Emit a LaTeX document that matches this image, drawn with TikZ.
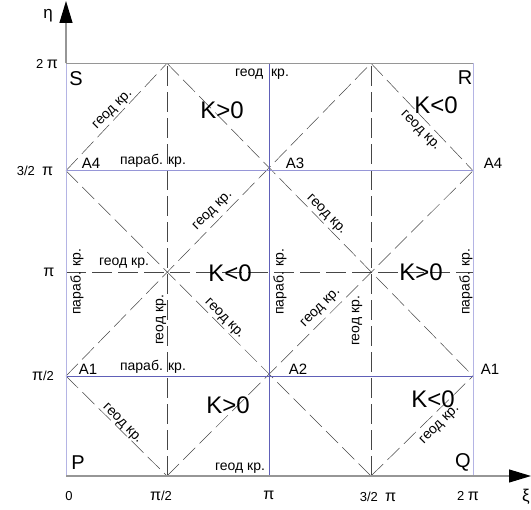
\documentclass[tikz,border=0pt]{standalone}
\usepackage{fontspec}
\setmainfont{Liberation Sans}
\usetikzlibrary{arrows.meta}
\definecolor{edgecol}{RGB}{180,180,228}
\definecolor{bluecol}{RGB}{96,96,184}
\definecolor{lbluecol}{RGB}{150,150,215}
\definecolor{axcol}{RGB}{150,150,150}
\definecolor{dashcol}{RGB}{70,70,70}
\newcommand\PI{{\fontsize{16}{16}\selectfont π}}
\begin{document}
\begin{tikzpicture}[x=1pt,y=-1pt,
  axisln/.style={draw=axcol, line width=1.1pt},
  edgeln/.style={draw=edgecol, line width=1pt},
  blueln/.style={draw=bluecol, line width=0.8pt},
  lblueln/.style={draw=lbluecol, line width=0.9pt},
  gridd/.style={draw=dashcol, line width=0.5pt, dash pattern=on 20pt off 6pt},
  diagd/.style={draw=dashcol, line width=0.5pt, dash pattern=on 17pt off 6pt},
  arr/.style={-{Triangle[length=22pt,width=13pt,color=black]}},
  small/.style={font=\fontsize{14}{14}\selectfont, inner sep=0pt},
  big/.style={font=\fontsize{24}{24}\selectfont, inner sep=0pt},
  corner/.style={font=\fontsize{20}{20}\selectfont, inner sep=0pt},
  ptl/.style={font=\fontsize{15}{15}\selectfont, inner sep=0pt},
  ax/.style={font=\fontsize{13}{13}\selectfont, inner sep=0pt},
  greek/.style={font=\fontsize{17}{17}\selectfont, inner sep=0pt}]
\useasboundingbox (0,0) rectangle (531,510);
\foreach \i/\x in {0/66,1/167,2/269,3/371,4/473}
  \foreach \j/\y in {0/476,1/376,2/272.7,3/170.7,4/63.3}
    \coordinate (c\i\j) at (\x,\y);
\coordinate (xtip) at (531,476);
\coordinate (ytip) at (66,1);
% grid dashed
\draw[gridd] (c10) -- (c14);
\draw[gridd] (c30) -- (c34);
\draw[gridd] (c02) -- (c42);
% diagonals
\draw[diagd] (c10) -- (c43);
\draw[diagd] (c01) -- (c34);
\draw[diagd] (c03) -- (c14);
\draw[diagd] (c30) -- (c41);
\draw[diagd] (c01) -- (c10);
\draw[diagd] (c03) -- (c30);
\draw[diagd] (c14) -- (c41);
\draw[diagd] (c34) -- (c43);
% blue lines
\draw[blueln] (c01) -- (c41);
\draw[lblueln] (c03) -- (c43);
\draw[blueln] (c20) -- (c24);
% frame
\draw[edgeln] (c00) -- (c04);
\draw[edgeln] (c40) -- (c44);
\draw[axisln] (c04) -- (c44);
\draw[axisln,arr] (c00) -- (xtip);
\draw[axisln,arr] (c04) -- (ytip);
% axis names
\node[greek] (eta) at (48,16) {η};
\node[greek] (xi) at (526,497) {ξ};
% y ticks
\node[ax] (ty4) at (47,64) {2 \PI};
\node[ax] (ty3) at (35,171) {3/2\ \ \PI};
\node[ax] (ty2) at (49,272) {\PI};
\node[ax] (ty1) at (43,376) {\PI/2};
% x ticks
\node[ax] (tx0) at (69,496) {0};
\node[ax] (tx1) at (161,496) {\PI/2};
\node[ax] (tx2) at (269,495) {\PI};
\node[ax] (tx3) at (378,497) {3/2\ \ \PI};
\node[ax] (tx4) at (468,496) {2 \PI};
% corners
\node[corner] (S) at (76,79) {S};
\node[corner] (R) at (465,78) {R};
\node[corner] (P) at (78,463) {P};
\node[corner] (Q) at (463,462) {Q};
% points
\node[ptl] (A4l) at (91,163) {A4};
\node[ptl] (A4r) at (493,163) {A4};
\node[ptl] (A3) at (295,163) {A3};
\node[ptl] (A1l) at (88,369) {A1};
\node[ptl] (A2) at (298,369) {A2};
\node[ptl] (A1r) at (490,369) {A1};
% curvature
\node[big] (k1) at (222,110) {K>0};
\node[big] (k2) at (436,105) {K<0};
\node[big] (k3) at (230,273) {K<0};
\node[big] (k4) at (421,272) {K>0};
\node[big] (k5) at (228,405) {K>0};
\node[big] (k6) at (433,399) {K<0};
% horizontal labels
\node[small] (h1) at (262,74) {геод\ \ кр.};
\node[small] (h2) at (240,468) {геод кр.};
\node[small] (h3) at (153,161) {параб. кр.};
\node[small] (h4) at (153,367) {параб. кр.};
\node[small] (h5) at (124,263) {геод кр.};
% vertical labels
\node[small,rotate=90] (v1) at (77,282) {параб. кр.};
\node[small,rotate=90] (v2) at (161,320) {геод кр.};
\node[small,rotate=90] (v3) at (280,282) {параб. кр.};
\node[small,rotate=90] (v4) at (357,321) {геод кр.};
\node[small,rotate=90] (v5) at (466,282) {параб. кр.};
% diagonal labels
\node[small,rotate=45] (d1) at (113,110) {геод кр.};
\node[small,rotate=-45] (d2) at (420,131) {геод кр.};
\node[small,rotate=45] (d3) at (213,211) {геод кр.};
\node[small,rotate=-45] (d4) at (326,215) {геод кр.};
\node[small,rotate=-45] (d5) at (224,319) {геод кр.};
\node[small,rotate=45] (d6) at (321,308) {геод кр.};
\node[small,rotate=-45] (d7) at (122,424) {геод кр.};
\node[small,rotate=45] (d8) at (440,425) {геод кр.};
\end{tikzpicture}
\end{document}
